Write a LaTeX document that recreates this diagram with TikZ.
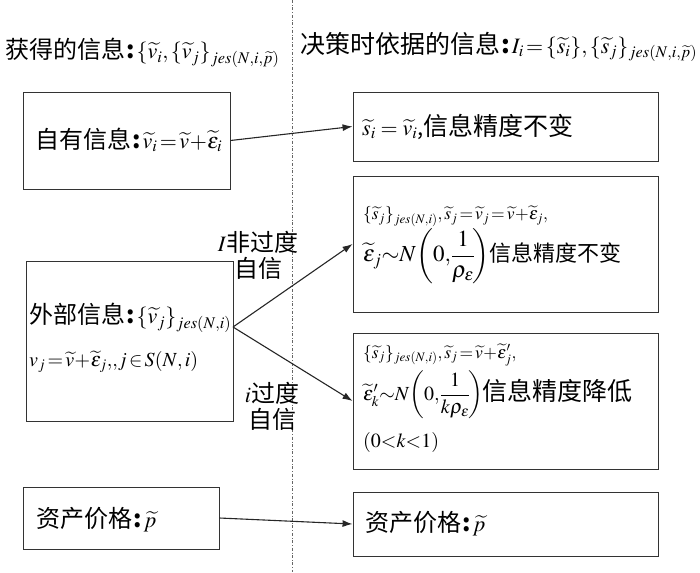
\documentclass[tikz,border=0pt]{standalone}
\usepackage{amsmath}
\usepackage{mathptmx}
\usepackage{fontspec}
\newfontfamily\cjk{Noto Sans CJK SC}
\usetikzlibrary{arrows.meta}
\newcommand{\mfs}{\fontsize{22}{26}\selectfont}
\newcommand{\sfs}{\fontsize{17.5}{20}\selectfont}
\newcommand{\nfs}{\fontsize{20}{24}\selectfont}
\newcommand{\cln}{\hspace{1pt}{\bfseries :}\hspace{2pt}}
\begin{document}
\begin{tikzpicture}[x=1pt,y=-1pt,
  box/.style={draw=black!80,line width=0.9pt,inner sep=0pt},
  txt/.style={anchor=west,inner sep=0pt,font=\fontsize{24}{28}\selectfont\cjk},
  arr/.style={-{Latex[length=10pt,width=7pt]},line width=1.1pt,draw=black!85},
  lbl/.style={inner sep=0pt,font=\fontsize{24}{26}\selectfont\cjk,align=center},
]
\useasboundingbox (0,0) rectangle (700,572);
\draw[black!60,dash dot,line width=0.8pt] (292,0) -- (292,572);
% titles
\node[txt] (t1) at (5,53) {获得的信息\cln{\mfs$\{\widetilde{v}_i,\{\widetilde{v}_j\}_{jes(N,i,\widetilde{p})}$}};
\node[txt] (t2) at (300,47) {\fontsize{25}{28}\selectfont 决策时依据的信息\cln{\mfs$I_i\!=\!\{\widetilde{s}_i\},\{\widetilde{s}_j\}_{jes(N,i,\widetilde{p})}$}};
% boxes
\node[box,minimum width=207pt,minimum height=97pt] (b1) at (126.5,140.5) {};
\node[box,minimum width=207pt,minimum height=160pt] (ext) at (129.5,341) {};
\node[box,minimum width=196pt,minimum height=62pt] (b4) at (121,518) {};
\node[box,minimum width=305pt,minimum height=69pt] (r1) at (505.5,126.5) {};
\node[box,minimum width=305pt,minimum height=136pt] (r2) at (505.5,244) {};
\node[box,minimum width=305pt,minimum height=136pt] (r3) at (505.5,401) {};
\node[box,minimum width=305pt,minimum height=64pt] (r4) at (505.5,524) {};
% texts
\node[txt] (b1t) at (35,140) {自有信息\cln{\mfs$\widetilde{v}_i\!=\!\widetilde{v}\!+\!\widetilde{\varepsilon}_i$}};
\node[txt] (extt1) at (29,318) {外部信息\cln{\mfs$\{\widetilde{v}_j\}_{jes(N,i)}$}};
\node[txt] (extt2) at (29,362) {\nfs$v_j\!=\!\widetilde{v}\!+\!\widetilde{\varepsilon}_j,\!,\!j\!\in\! S(N,i)$};
\node[txt] (b4t) at (36,520) {资产价格\cln{\mfs$\widetilde{p}$}};
\node[txt] (r1t) at (362,127) {\fontsize{25}{28}\selectfont{\mfs$\widetilde{s}_i=\widetilde{v}_i$,}信息精度不变};
\node[txt] (r2t1) at (363,216) {\sfs$\{\widetilde{s}_j\}_{jes(N,i)},\widetilde{s}_j\!=\!\widetilde{v}_j\!=\!\widetilde{v}\!+\!\widetilde{\varepsilon}_j,$};
\node[txt] (r2t2) at (363,256) {\fontsize{22}{26}\selectfont{\fontsize{23}{26}\selectfont$\widetilde{\varepsilon}_j{\sim}N\!\left(0,\!\dfrac{1}{\rho_\varepsilon}\!\right)$}信息精度不变};
\node[txt] (r3t1) at (363,355) {\sfs$\{\widetilde{s}_j\}_{jes(N,i)},\widetilde{s}_j\!=\!\widetilde{v}\!+\!\widetilde{\varepsilon}'_j,$};
\node[txt] (r3t2) at (363,395) {\fontsize{25}{28}\selectfont{\nfs$\widetilde{\varepsilon}'_k{\sim}N\!\left(0,\!\dfrac{1}{k\rho_\varepsilon}\!\right)$}信息精度降低};
\node[txt] (r3t3) at (363,442) {\nfs$(0{<}k{<}1)$};
\node[txt] (r4t) at (365,524) {资产价格\cln{\mfs$\widetilde{p}$}};
% labels
\node[lbl] (l1) at (258,255) {{\mfs$I$}非过度\\自信};
\node[lbl] (l2) at (272,406) {{\mfs$i$}过度\\自信};
% arrows
\coordinate (split) at (233,327);
\draw[arr] (b1.east) -- (r1.west);
\draw[arr] (split) -- (r2.west);
\draw[arr] (split) -- (r3.west);
\draw[arr] (b4.east) -- (r4.west);
\end{tikzpicture}
\end{document}
